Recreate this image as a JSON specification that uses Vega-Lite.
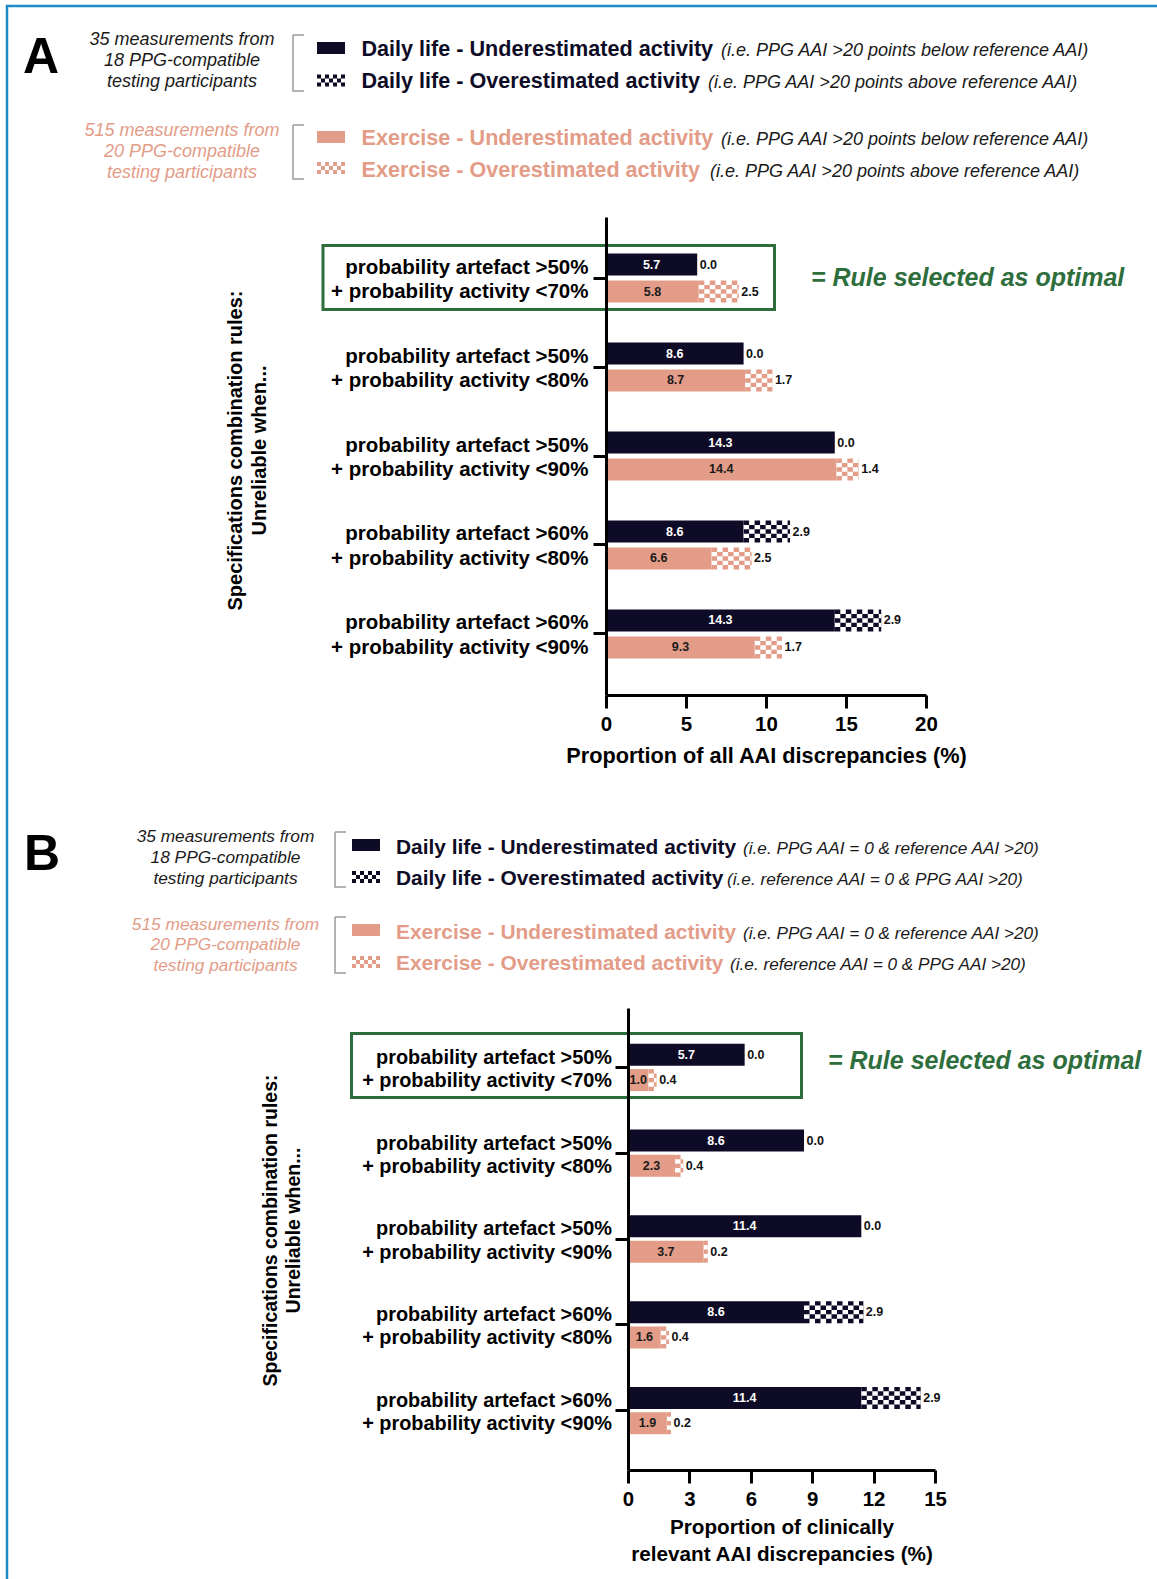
{
"$schema": "https://vega.github.io/schema/vega-lite/v6.json",
"width": 1157, "height": 1579,
"autosize": {"type": "none"},
"padding": 0,
"background": "white",
"config": {"view": {"stroke": null}, "font": "Liberation Sans"},
"datasets": {
"bars": [
{"panel":"A","rule":"probability artefact >50% + probability activity <70%","group":"Daily life","under":5.7,"over":0.0},
{"panel":"A","rule":"probability artefact >50% + probability activity <70%","group":"Exercise","under":5.8,"over":2.5},
{"panel":"A","rule":"probability artefact >50% + probability activity <80%","group":"Daily life","under":8.6,"over":0.0},
{"panel":"A","rule":"probability artefact >50% + probability activity <80%","group":"Exercise","under":8.7,"over":1.7},
{"panel":"A","rule":"probability artefact >50% + probability activity <90%","group":"Daily life","under":14.3,"over":0.0},
{"panel":"A","rule":"probability artefact >50% + probability activity <90%","group":"Exercise","under":14.4,"over":1.4},
{"panel":"A","rule":"probability artefact >60% + probability activity <80%","group":"Daily life","under":8.6,"over":2.9},
{"panel":"A","rule":"probability artefact >60% + probability activity <80%","group":"Exercise","under":6.6,"over":2.5},
{"panel":"A","rule":"probability artefact >60% + probability activity <90%","group":"Daily life","under":14.3,"over":2.9},
{"panel":"A","rule":"probability artefact >60% + probability activity <90%","group":"Exercise","under":9.3,"over":1.7},
{"panel":"B","rule":"probability artefact >50% + probability activity <70%","group":"Daily life","under":5.7,"over":0.0},
{"panel":"B","rule":"probability artefact >50% + probability activity <70%","group":"Exercise","under":1.0,"over":0.4},
{"panel":"B","rule":"probability artefact >50% + probability activity <80%","group":"Daily life","under":8.6,"over":0.0},
{"panel":"B","rule":"probability artefact >50% + probability activity <80%","group":"Exercise","under":2.3,"over":0.4},
{"panel":"B","rule":"probability artefact >50% + probability activity <90%","group":"Daily life","under":11.4,"over":0.0},
{"panel":"B","rule":"probability artefact >50% + probability activity <90%","group":"Exercise","under":3.7,"over":0.2},
{"panel":"B","rule":"probability artefact >60% + probability activity <80%","group":"Daily life","under":8.6,"over":2.9},
{"panel":"B","rule":"probability artefact >60% + probability activity <80%","group":"Exercise","under":1.6,"over":0.4},
{"panel":"B","rule":"probability artefact >60% + probability activity <90%","group":"Daily life","under":11.4,"over":2.9},
{"panel":"B","rule":"probability artefact >60% + probability activity <90%","group":"Exercise","under":1.9,"over":0.2}
]
},
"resolve": {"scale": {"x": "independent", "y": "independent", "yOffset": "independent", "color": "independent"}, "axis": {"x": "independent", "y": "independent"}},
"layer": [
{
"data": {"name": "bars"},
"transform": [
{"filter": "datum.panel == 'A'"},
{"fold": ["under", "over"]},
{"stack": "value", "groupby": ["rule", "group"], "sort": [{"field": "key", "order": "descending"}], "as": ["x0", "x1"]}
],
"encoding": {
"y": {"field": "rule", "type": "nominal",
 "scale": {"type": "band", "domain": ["probability artefact >50% + probability activity <70%","probability artefact >50% + probability activity <80%","probability artefact >50% + probability activity <90%","probability artefact >60% + probability activity <80%","probability artefact >60% + probability activity <90%"], "range": [217, 695], "paddingInner": 0.281, "paddingOuter": 0.326},
 "axis": {"orient": "left", "offset": -606, "zindex": 1, "grid": false, "domainColor": "#000000", "domainWidth": 3, "tickColor": "#000000", "tickWidth": 3, "tickSize": 13, "labelFontSize": 20.5, "labelFontWeight": "bold", "labelColor": "#000000", "labelPadding": 5, "labelLimit": 1000, "labelLineHeight": 24.5, "labelOffset": -10.5, "labelOverlap": false, "labelExpr": "[split(datum.label, ' + ')[0], '+ ' + split(datum.label, ' + ')[1]]", "title": ["Specifications combination rules:", "Unreliable when..."], "titleFontSize": 20, "titleFontWeight": "bold", "titleColor": "#000000", "titleLineHeight": 24, "titleAngle": 270, "titleAlign": "center", "titleBaseline": "alphabetic", "titleX": -365, "titleY": 450, "titleLimit": 1000}},
"yOffset": {"field": "group", "type": "nominal", "scale": {"domain": ["Daily life", "Exercise"], "paddingInner": 0.185, "paddingOuter": 0.278}},
"color": {"field": "group", "type": "nominal", "scale": {"domain": ["Daily life", "Exercise"], "range": ["#0e0b26", "#e39c87"]}, "legend": null}
},
"layer": [
{"transform": [{"filter": "datum.key == 'under'"}], "mark": {"type": "bar"},
 "encoding": {"x": {"field": "x0", "type": "quantitative", "scale": {"domain": [0, 20], "range": [606, 926], "nice": false, "zero": false},
  "axis": {"orient": "bottom", "offset": -884, "zindex": 1, "values": [0, 5, 10, 15, 20], "format": "d", "grid": false, "domainColor": "#000000", "domainWidth": 3, "tickColor": "#000000", "tickWidth": 3, "tickSize": 13, "labelFontSize": 20.5, "labelFontWeight": "bold", "labelColor": "#000000", "labelPadding": 6.5, "labelFlush": false, "labelOverlap": false, "title": "Proportion of all AAI discrepancies (%)", "titleFontSize": 21.7, "titleFontWeight": "bold", "titleColor": "#000000", "titleBaseline": "alphabetic", "titleY": 67.5, "titleLimit": 1000}},
  "x2": {"field": "x1"}}},
{"transform": [{"filter": "datum.key == 'over'"}], "mark": {"type": "rule", "strokeWidth": 22, "strokeDash": [5.5, 5.5]},
 "encoding": {"x": {"field": "x0", "type": "quantitative"}, "x2": {"field": "x1"}}},
{"transform": [{"filter": "datum.key == 'over'"}], "mark": {"type": "rule", "strokeWidth": 13.2},
 "encoding": {"x": {"field": "x0", "type": "quantitative"}, "x2": {"field": "x1"}, "color": {"value": "#ffffff"}}},
{"transform": [{"filter": "datum.key == 'over'"}], "mark": {"type": "rule", "strokeWidth": 13.2, "strokeDash": [5.5, 5.5], "strokeDashOffset": 5.5},
 "encoding": {"x": {"field": "x0", "type": "quantitative"}, "x2": {"field": "x1"}}},
{"transform": [{"filter": "datum.key == 'over'"}], "mark": {"type": "rule", "strokeWidth": 4.4},
 "encoding": {"x": {"field": "x0", "type": "quantitative"}, "x2": {"field": "x1"}, "color": {"value": "#ffffff"}}},
{"transform": [{"filter": "datum.key == 'over'"}], "mark": {"type": "rule", "strokeWidth": 4.4, "strokeDash": [5.5, 5.5]},
 "encoding": {"x": {"field": "x0", "type": "quantitative"}, "x2": {"field": "x1"}}},
{"transform": [{"filter": "datum.key == 'over'"}], "mark": {"type": "text", "align": "left", "baseline": "middle", "dx": 2.5, "fontSize": 12.5, "fontWeight": "bold"},
 "encoding": {"x": {"field": "x1", "type": "quantitative"}, "text": {"field": "value", "type": "quantitative", "format": ".1f"}, "color": {"value": "#111111"}}},
{"transform": [{"filter": "datum.key == 'under'"}, {"fold": ["x0", "x1"], "as": ["edge", "pos"]}, {"aggregate": [{"op": "mean", "field": "pos", "as": "mid"}, {"op": "max", "field": "value", "as": "uval"}], "groupby": ["rule", "group"]}],
 "mark": {"type": "text", "align": "center", "baseline": "middle", "fontSize": 12.5, "fontWeight": "bold"},
 "encoding": {"x": {"field": "mid", "type": "quantitative"}, "text": {"field": "uval", "type": "quantitative", "format": ".1f"}, "color": {"condition": {"test": "datum.group == 'Daily life'", "value": "#ffffff"}, "value": "#1a1a1a"}}}
]
},
{
"data": {"name": "bars"},
"transform": [
{"filter": "datum.panel == 'B'"},
{"fold": ["under", "over"]},
{"stack": "value", "groupby": ["rule", "group"], "sort": [{"field": "key", "order": "descending"}], "as": ["x0", "x1"]}
],
"encoding": {
"y": {"field": "rule", "type": "nominal",
 "scale": {"type": "band", "domain": ["probability artefact >50% + probability activity <70%","probability artefact >50% + probability activity <80%","probability artefact >50% + probability activity <90%","probability artefact >60% + probability activity <80%","probability artefact >60% + probability activity <90%"], "range": [1008, 1470], "paddingInner": 0.254, "paddingOuter": 0.32},
 "axis": {"orient": "left", "offset": -628, "zindex": 1, "grid": false, "domainColor": "#000000", "domainWidth": 3, "tickColor": "#000000", "tickWidth": 3, "tickSize": 13, "labelFontSize": 19.9, "labelFontWeight": "bold", "labelColor": "#000000", "labelPadding": 3.5, "labelLimit": 1000, "labelLineHeight": 23.4, "labelOffset": -9.7, "labelOverlap": false, "labelExpr": "[split(datum.label, ' + ')[0], '+ ' + split(datum.label, ' + ')[1]]", "title": ["Specifications combination rules:", "Unreliable when..."], "titleFontSize": 19.5, "titleFontWeight": "bold", "titleColor": "#000000", "titleLineHeight": 23, "titleAngle": 270, "titleAlign": "center", "titleBaseline": "alphabetic", "titleX": -351.7, "titleY": 1230, "titleLimit": 1000}},
"yOffset": {"field": "group", "type": "nominal", "scale": {"domain": ["Daily life", "Exercise"], "paddingInner": 0.13, "paddingOuter": 0.33}},
"color": {"field": "group", "type": "nominal", "scale": {"domain": ["Daily life", "Exercise"], "range": ["#0e0b26", "#e39c87"]}, "legend": null}
},
"layer": [
{"transform": [{"filter": "datum.key == 'under'"}], "mark": {"type": "bar"},
 "encoding": {"x": {"field": "x0", "type": "quantitative", "scale": {"domain": [0, 15], "range": [628, 935], "nice": false, "zero": false},
  "axis": {"orient": "bottom", "offset": -109, "zindex": 1, "values": [0, 3, 6, 9, 12, 15], "format": "d", "grid": false, "domainColor": "#000000", "domainWidth": 3, "tickColor": "#000000", "tickWidth": 3, "tickSize": 13, "labelFontSize": 20.4, "labelFontWeight": "bold", "labelColor": "#000000", "labelPadding": 6, "labelFlush": false, "labelOverlap": false, "title": ["Proportion of clinically", "relevant AAI discrepancies (%)"], "titleFontSize": 20.7, "titleFontWeight": "bold", "titleColor": "#000000", "titleBaseline": "alphabetic", "titleLineHeight": 27, "titleY": 63, "titleLimit": 1000}},
  "x2": {"field": "x1"}}},
{"transform": [{"filter": "datum.key == 'over'"}], "mark": {"type": "rule", "strokeWidth": 22, "strokeDash": [5.5, 5.5]},
 "encoding": {"x": {"field": "x0", "type": "quantitative"}, "x2": {"field": "x1"}}},
{"transform": [{"filter": "datum.key == 'over'"}], "mark": {"type": "rule", "strokeWidth": 13.2},
 "encoding": {"x": {"field": "x0", "type": "quantitative"}, "x2": {"field": "x1"}, "color": {"value": "#ffffff"}}},
{"transform": [{"filter": "datum.key == 'over'"}], "mark": {"type": "rule", "strokeWidth": 13.2, "strokeDash": [5.5, 5.5], "strokeDashOffset": 5.5},
 "encoding": {"x": {"field": "x0", "type": "quantitative"}, "x2": {"field": "x1"}}},
{"transform": [{"filter": "datum.key == 'over'"}], "mark": {"type": "rule", "strokeWidth": 4.4},
 "encoding": {"x": {"field": "x0", "type": "quantitative"}, "x2": {"field": "x1"}, "color": {"value": "#ffffff"}}},
{"transform": [{"filter": "datum.key == 'over'"}], "mark": {"type": "rule", "strokeWidth": 4.4, "strokeDash": [5.5, 5.5]},
 "encoding": {"x": {"field": "x0", "type": "quantitative"}, "x2": {"field": "x1"}}},
{"transform": [{"filter": "datum.key == 'over'"}], "mark": {"type": "text", "align": "left", "baseline": "middle", "dx": 2.5, "fontSize": 12.5, "fontWeight": "bold"},
 "encoding": {"x": {"field": "x1", "type": "quantitative"}, "text": {"field": "value", "type": "quantitative", "format": ".1f"}, "color": {"value": "#111111"}}},
{"transform": [{"filter": "datum.key == 'under'"}, {"fold": ["x0", "x1"], "as": ["edge", "pos"]}, {"aggregate": [{"op": "mean", "field": "pos", "as": "mid"}, {"op": "max", "field": "value", "as": "uval"}], "groupby": ["rule", "group"]}],
 "mark": {"type": "text", "align": "center", "baseline": "middle", "fontSize": 12.5, "fontWeight": "bold"},
 "encoding": {"x": {"field": "mid", "type": "quantitative"}, "text": {"field": "uval", "type": "quantitative", "format": ".1f"}, "color": {"condition": {"test": "datum.group == 'Daily life'", "value": "#ffffff"}, "value": "#1a1a1a"}}}
]
},
{
"data": {"values": [{}]},
"layer": [
{"mark": {"type": "rule", "color": "#1e8bc9", "strokeWidth": 2.5},
 "encoding": {"x": {"datum": 6, "type": "quantitative", "scale": {"domain": [0, 1157], "range": [0, 1157], "nice": false, "zero": false}, "axis": null}, "x2": {"datum": 1157},
  "y": {"datum": 6, "type": "quantitative", "scale": {"domain": [0, 1579], "range": [0, 1579], "nice": false, "zero": false}, "axis": null}}},
{"mark": {"type": "rule", "color": "#1e8bc9", "strokeWidth": 2.5},
 "encoding": {"x": {"datum": 7, "type": "quantitative", "axis": null}, "y": {"datum": 5, "type": "quantitative", "axis": null}, "y2": {"datum": 1579}}},

{"mark": {"type": "text", "text": "A", "fontSize": 50, "fontWeight": "bold", "align": "center", "baseline": "alphabetic", "color": "#000000"},
 "encoding": {"x": {"datum": 41, "type": "quantitative", "axis": null}, "y": {"datum": 73, "type": "quantitative", "axis": null}}},
{"mark": {"type": "text", "text": ["35 measurements from", "18 PPG-compatible", "testing participants"], "fontSize": 18, "fontStyle": "italic", "lineHeight": 21, "align": "center", "baseline": "alphabetic", "color": "#1a1a1a"},
 "encoding": {"x": {"datum": 182, "type": "quantitative", "axis": null}, "y": {"datum": 44.5, "type": "quantitative", "axis": null}}},
{"mark": {"type": "text", "text": ["515 measurements from", "20 PPG-compatible", "testing participants"], "fontSize": 18, "fontStyle": "italic", "lineHeight": 21, "align": "center", "baseline": "alphabetic", "color": "#e39c87"},
 "encoding": {"x": {"datum": 182, "type": "quantitative", "axis": null}, "y": {"datum": 136, "type": "quantitative", "axis": null}}},
{"mark": {"type": "rect", "filled": false, "stroke": "#9a9a9a", "strokeWidth": 1.5, "strokeDash": [11, 56, 67, 0]},
 "encoding": {"x": {"datum": 293, "type": "quantitative", "axis": null}, "x2": {"datum": 304}, "y": {"datum": 35, "type": "quantitative", "axis": null}, "y2": {"datum": 91}}},
{"mark": {"type": "rect", "filled": false, "stroke": "#9a9a9a", "strokeWidth": 1.5, "strokeDash": [11, 54, 65, 0]},
 "encoding": {"x": {"datum": 293, "type": "quantitative", "axis": null}, "x2": {"datum": 304}, "y": {"datum": 125, "type": "quantitative", "axis": null}, "y2": {"datum": 179}}},
{"mark": {"type": "rect", "color": "#0e0b26"},
 "encoding": {"x": {"datum": 317, "type": "quantitative", "axis": null}, "x2": {"datum": 345}, "y": {"datum": 42, "type": "quantitative", "axis": null}, "y2": {"datum": 54}}},
{"mark": {"type": "rect", "color": "#e39c87"},
 "encoding": {"x": {"datum": 317, "type": "quantitative", "axis": null}, "x2": {"datum": 345}, "y": {"datum": 131, "type": "quantitative", "axis": null}, "y2": {"datum": 143}}},
{"mark": {"type": "rule", "color": "#0e0b26", "strokeWidth": 12, "strokeDash": [4, 4]},
 "encoding": {"x": {"datum": 317, "type": "quantitative", "axis": null}, "x2": {"datum": 345}, "y": {"datum": 80.5, "type": "quantitative", "axis": null}}},
{"mark": {"type": "rule", "color": "#ffffff", "strokeWidth": 4},
 "encoding": {"x": {"datum": 317, "type": "quantitative", "axis": null}, "x2": {"datum": 345}, "y": {"datum": 80.5, "type": "quantitative", "axis": null}}},
{"mark": {"type": "rule", "color": "#0e0b26", "strokeWidth": 4, "strokeDash": [4, 4], "strokeDashOffset": 4},
 "encoding": {"x": {"datum": 317, "type": "quantitative", "axis": null}, "x2": {"datum": 345}, "y": {"datum": 80.5, "type": "quantitative", "axis": null}}},
{"mark": {"type": "rule", "color": "#e39c87", "strokeWidth": 12, "strokeDash": [4, 4]},
 "encoding": {"x": {"datum": 317, "type": "quantitative", "axis": null}, "x2": {"datum": 345}, "y": {"datum": 168, "type": "quantitative", "axis": null}}},
{"mark": {"type": "rule", "color": "#ffffff", "strokeWidth": 4},
 "encoding": {"x": {"datum": 317, "type": "quantitative", "axis": null}, "x2": {"datum": 345}, "y": {"datum": 168, "type": "quantitative", "axis": null}}},
{"mark": {"type": "rule", "color": "#e39c87", "strokeWidth": 4, "strokeDash": [4, 4], "strokeDashOffset": 4},
 "encoding": {"x": {"datum": 317, "type": "quantitative", "axis": null}, "x2": {"datum": 345}, "y": {"datum": 168, "type": "quantitative", "axis": null}}},
{"mark": {"type": "text", "text": ["Daily life - Underestimated activity", "Daily life - Overestimated activity"], "fontSize": 21.6, "fontWeight": "bold", "lineHeight": 32.6, "align": "left", "baseline": "alphabetic", "color": "#0e0b26"},
 "encoding": {"x": {"datum": 361.5, "type": "quantitative", "axis": null}, "y": {"datum": 55.7, "type": "quantitative", "axis": null}}},
{"mark": {"type": "text", "text": ["Exercise - Underestimated activity", "Exercise - Overestimated activity"], "fontSize": 21.6, "fontWeight": "bold", "lineHeight": 32, "align": "left", "baseline": "alphabetic", "color": "#e39c87"},
 "encoding": {"x": {"datum": 361.5, "type": "quantitative", "axis": null}, "y": {"datum": 144.7, "type": "quantitative", "axis": null}}},
{"mark": {"type": "text", "text": "(i.e. PPG AAI >20 points below reference AAI)", "fontSize": 18, "fontStyle": "italic", "align": "left", "baseline": "alphabetic", "color": "#1a1a1a"},
 "encoding": {"x": {"datum": 721, "type": "quantitative", "axis": null}, "y": {"datum": 55.7, "type": "quantitative", "axis": null}}},
{"mark": {"type": "text", "text": "(i.e. PPG AAI >20 points above reference AAI)", "fontSize": 18, "fontStyle": "italic", "align": "left", "baseline": "alphabetic", "color": "#1a1a1a"},
 "encoding": {"x": {"datum": 708, "type": "quantitative", "axis": null}, "y": {"datum": 88.3, "type": "quantitative", "axis": null}}},
{"mark": {"type": "text", "text": "(i.e. PPG AAI >20 points below reference AAI)", "fontSize": 18, "fontStyle": "italic", "align": "left", "baseline": "alphabetic", "color": "#1a1a1a"},
 "encoding": {"x": {"datum": 721, "type": "quantitative", "axis": null}, "y": {"datum": 144.7, "type": "quantitative", "axis": null}}},
{"mark": {"type": "text", "text": "(i.e. PPG AAI >20 points above reference AAI)", "fontSize": 18, "fontStyle": "italic", "align": "left", "baseline": "alphabetic", "color": "#1a1a1a"},
 "encoding": {"x": {"datum": 710, "type": "quantitative", "axis": null}, "y": {"datum": 176.7, "type": "quantitative", "axis": null}}},
{"mark": {"type": "rect", "filled": false, "stroke": "#2e6e3c", "strokeWidth": 3},
 "encoding": {"x": {"datum": 323, "type": "quantitative", "axis": null}, "x2": {"datum": 774.5}, "y": {"datum": 245.5, "type": "quantitative", "axis": null}, "y2": {"datum": 309.5}}},
{"mark": {"type": "text", "text": "= Rule selected as optimal", "fontSize": 25, "fontWeight": "bold", "fontStyle": "italic", "align": "left", "baseline": "alphabetic", "color": "#2e6e3c"},
 "encoding": {"x": {"datum": 811, "type": "quantitative", "axis": null}, "y": {"datum": 285.8, "type": "quantitative", "axis": null}}},

{"mark": {"type": "text", "text": "B", "fontSize": 50, "fontWeight": "bold", "align": "center", "baseline": "alphabetic", "color": "#000000"},
 "encoding": {"x": {"datum": 42, "type": "quantitative", "axis": null}, "y": {"datum": 870, "type": "quantitative", "axis": null}}},
{"mark": {"type": "text", "text": ["35 measurements from", "18 PPG-compatible", "testing participants"], "fontSize": 17.3, "fontStyle": "italic", "lineHeight": 20.7, "align": "center", "baseline": "alphabetic", "color": "#1a1a1a"},
 "encoding": {"x": {"datum": 225.5, "type": "quantitative", "axis": null}, "y": {"datum": 842.2, "type": "quantitative", "axis": null}}},
{"mark": {"type": "text", "text": ["515 measurements from", "20 PPG-compatible", "testing participants"], "fontSize": 17.3, "fontStyle": "italic", "lineHeight": 20.7, "align": "center", "baseline": "alphabetic", "color": "#e39c87"},
 "encoding": {"x": {"datum": 225.5, "type": "quantitative", "axis": null}, "y": {"datum": 929.7, "type": "quantitative", "axis": null}}},
{"mark": {"type": "rect", "filled": false, "stroke": "#9a9a9a", "strokeWidth": 1.5, "strokeDash": [11, 55, 66, 0]},
 "encoding": {"x": {"datum": 335, "type": "quantitative", "axis": null}, "x2": {"datum": 346}, "y": {"datum": 832, "type": "quantitative", "axis": null}, "y2": {"datum": 887}}},
{"mark": {"type": "rect", "filled": false, "stroke": "#9a9a9a", "strokeWidth": 1.5, "strokeDash": [11, 56, 67, 0]},
 "encoding": {"x": {"datum": 335, "type": "quantitative", "axis": null}, "x2": {"datum": 346}, "y": {"datum": 917, "type": "quantitative", "axis": null}, "y2": {"datum": 973}}},
{"mark": {"type": "rect", "color": "#0e0b26"},
 "encoding": {"x": {"datum": 352, "type": "quantitative", "axis": null}, "x2": {"datum": 380}, "y": {"datum": 839, "type": "quantitative", "axis": null}, "y2": {"datum": 851}}},
{"mark": {"type": "rect", "color": "#e39c87"},
 "encoding": {"x": {"datum": 352, "type": "quantitative", "axis": null}, "x2": {"datum": 380}, "y": {"datum": 924, "type": "quantitative", "axis": null}, "y2": {"datum": 936}}},
{"mark": {"type": "rule", "color": "#0e0b26", "strokeWidth": 12, "strokeDash": [4, 4]},
 "encoding": {"x": {"datum": 352, "type": "quantitative", "axis": null}, "x2": {"datum": 380}, "y": {"datum": 877, "type": "quantitative", "axis": null}}},
{"mark": {"type": "rule", "color": "#ffffff", "strokeWidth": 4},
 "encoding": {"x": {"datum": 352, "type": "quantitative", "axis": null}, "x2": {"datum": 380}, "y": {"datum": 877, "type": "quantitative", "axis": null}}},
{"mark": {"type": "rule", "color": "#0e0b26", "strokeWidth": 4, "strokeDash": [4, 4], "strokeDashOffset": 4},
 "encoding": {"x": {"datum": 352, "type": "quantitative", "axis": null}, "x2": {"datum": 380}, "y": {"datum": 877, "type": "quantitative", "axis": null}}},
{"mark": {"type": "rule", "color": "#e39c87", "strokeWidth": 12, "strokeDash": [4, 4]},
 "encoding": {"x": {"datum": 352, "type": "quantitative", "axis": null}, "x2": {"datum": 380}, "y": {"datum": 962, "type": "quantitative", "axis": null}}},
{"mark": {"type": "rule", "color": "#ffffff", "strokeWidth": 4},
 "encoding": {"x": {"datum": 352, "type": "quantitative", "axis": null}, "x2": {"datum": 380}, "y": {"datum": 962, "type": "quantitative", "axis": null}}},
{"mark": {"type": "rule", "color": "#e39c87", "strokeWidth": 4, "strokeDash": [4, 4], "strokeDashOffset": 4},
 "encoding": {"x": {"datum": 352, "type": "quantitative", "axis": null}, "x2": {"datum": 380}, "y": {"datum": 962, "type": "quantitative", "axis": null}}},
{"mark": {"type": "text", "text": ["Daily life - Underestimated activity", "Daily life - Overestimated activity"], "fontSize": 20.9, "fontWeight": "bold", "lineHeight": 31, "align": "left", "baseline": "alphabetic", "color": "#0e0b26"},
 "encoding": {"x": {"datum": 396, "type": "quantitative", "axis": null}, "y": {"datum": 853.5, "type": "quantitative", "axis": null}}},
{"mark": {"type": "text", "text": ["Exercise - Underestimated activity", "Exercise - Overestimated activity"], "fontSize": 20.9, "fontWeight": "bold", "lineHeight": 31, "align": "left", "baseline": "alphabetic", "color": "#e39c87"},
 "encoding": {"x": {"datum": 396, "type": "quantitative", "axis": null}, "y": {"datum": 938.5, "type": "quantitative", "axis": null}}},
{"mark": {"type": "text", "text": "(i.e. PPG AAI = 0 & reference AAI >20)", "fontSize": 17.2, "fontStyle": "italic", "align": "left", "baseline": "alphabetic", "color": "#1a1a1a"},
 "encoding": {"x": {"datum": 743, "type": "quantitative", "axis": null}, "y": {"datum": 853.5, "type": "quantitative", "axis": null}}},
{"mark": {"type": "text", "text": "(i.e. reference AAI = 0 & PPG AAI >20)", "fontSize": 17.2, "fontStyle": "italic", "align": "left", "baseline": "alphabetic", "color": "#1a1a1a"},
 "encoding": {"x": {"datum": 727, "type": "quantitative", "axis": null}, "y": {"datum": 884.5, "type": "quantitative", "axis": null}}},
{"mark": {"type": "text", "text": "(i.e. PPG AAI = 0 & reference AAI >20)", "fontSize": 17.2, "fontStyle": "italic", "align": "left", "baseline": "alphabetic", "color": "#1a1a1a"},
 "encoding": {"x": {"datum": 743, "type": "quantitative", "axis": null}, "y": {"datum": 938.5, "type": "quantitative", "axis": null}}},
{"mark": {"type": "text", "text": "(i.e. reference AAI = 0 & PPG AAI >20)", "fontSize": 17.2, "fontStyle": "italic", "align": "left", "baseline": "alphabetic", "color": "#1a1a1a"},
 "encoding": {"x": {"datum": 730, "type": "quantitative", "axis": null}, "y": {"datum": 969.5, "type": "quantitative", "axis": null}}},
{"mark": {"type": "rect", "filled": false, "stroke": "#2e6e3c", "strokeWidth": 3},
 "encoding": {"x": {"datum": 351.5, "type": "quantitative", "axis": null}, "x2": {"datum": 801.5}, "y": {"datum": 1033.5, "type": "quantitative", "axis": null}, "y2": {"datum": 1097.5}}},
{"mark": {"type": "text", "text": "= Rule selected as optimal", "fontSize": 25, "fontWeight": "bold", "fontStyle": "italic", "align": "left", "baseline": "alphabetic", "color": "#2e6e3c"},
 "encoding": {"x": {"datum": 828, "type": "quantitative", "axis": null}, "y": {"datum": 1068.8, "type": "quantitative", "axis": null}}}
]
}
]
}
